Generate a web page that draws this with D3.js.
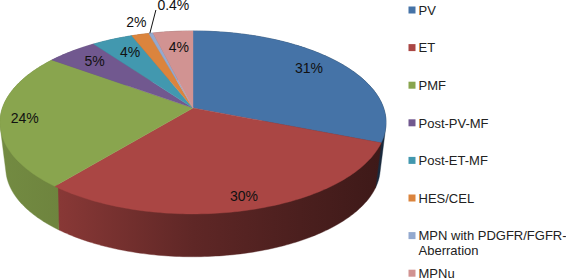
<!DOCTYPE html>
<html>
<head>
<meta charset="utf-8">
<script src="https://cdn.jsdelivr.net/npm/d3@7"></script>
<style>
  body { margin: 0; background: #fff; }
  svg { display: block; }
  text { font-family: "Liberation Sans", Arial, sans-serif; }
</style>
</head>
<body>
<div id="chart"></div>
<script>
const categories = ["PV", "ET", "PMF", "Post-PV-MF", "Post-ET-MF", "HES/CEL", "MPN with PDGFR/FGFR-Aberration", "MPNu"];
const values = [31, 30, 24, 5, 4, 1.7, 0.4, 3.9];
const valueLabels = ["31%", "30%", "24%", "5%", "4%", "2%", "0.4%", "4%"];
const colors = ["#4573a7", "#aa4644", "#89a54e", "#71588f", "#4298af", "#db843d", "#93a9cf", "#d19392"];

const width = 566;
const height = 278;
const tilt = 0.158; // perspective of the pie plane
const depthScale = 0.97; // bottom rim is a bit smaller than the top one

// where the text goes: radius along the slice middle, then a small nudge
const labelRadius = [0.78, 0.83, 0.9, 0.76, 0.77, 1.2, 1.0, 0.62];
const labelNudge = [[1, -3], [6, 6], [5, 0], [-4, -3], [1, -2], [5, 0], [0, 0], [-1, -11]];

const svg = d3.select("#chart").append("svg").attr("width", width).attr("height", height);

const xScale = d3.scaleLinear().domain([-1, 1]).range([2.4, 383.6]);
const yScale = d3.scaleLinear().domain([-1, 1]).range([108 + 89.2, 108 - 89.2]);

function project(angle, r) {
  const u = Math.sin(angle) * r;
  const v = Math.cos(angle) * r;
  const w = 1 + tilt * v;
  return [xScale(u / w), yScale(v / w)];
}

function projectBottom(angle) {
  const p = project(angle, 1);
  return [193 + (p[0] - 193) * depthScale, 154 + (p[1] - 108) * depthScale];
}

const pie = d3.pie().sort(null).value((d) => d);
const arcs = pie(values);
const line = d3.line();

function rimAngles(d) {
  const n = Math.max(2, Math.ceil((d.endAngle - d.startAngle) * 60));
  return d3.range(n + 1).map((i) => d.startAngle + ((d.endAngle - d.startAngle) * i) / n);
}

// wall shading, darker towards the right
const shade = d3.scaleLinear()
  .domain([0, 60, 193, 300, 386])
  .range([0.84, 0.8, 0.56, 0.44, 0.36]);

const defs = svg.append("defs");
arcs.forEach((d, i) => {
  const gradient = defs.append("linearGradient")
    .attr("id", "wall-" + i)
    .attr("gradientUnits", "userSpaceOnUse")
    .attr("x1", 0).attr("x2", 386).attr("y1", 0).attr("y2", 0);
  shade.domain().forEach((x) => {
    const c = d3.rgb(colors[i]);
    const k = shade(x);
    gradient.append("stop")
      .attr("offset", x / 386)
      .attr("stop-color", d3.rgb(c.r * k, c.g * k, c.b * k).formatHex());
  });
});

// side walls first, the top face covers the back part
// hull so the outline stays smooth where wall meets the top rim
svg.append("g").selectAll("path")
  .data(arcs)
  .enter()
  .append("path")
  .attr("fill", (d, i) => "url(#wall-" + i + ")")
  .attr("stroke", (d, i) => "url(#wall-" + i + ")")
  .attr("stroke-width", 0.4)
  .attr("d", (d) => {
    const angles = rimAngles(d);
    const top = angles.map((a) => project(a, 1));
    const bottom = angles.map(projectBottom);
    return line(d3.polygonHull(top.concat(bottom))) + "Z";
  });

// top face
svg.append("g").selectAll("path")
  .data(arcs)
  .enter()
  .append("path")
  .attr("fill", (d, i) => colors[i])
  .attr("stroke", (d, i) => colors[i])
  .attr("stroke-width", 0.4)
  .attr("d", (d) => {
    const rim = rimAngles(d).map((a) => project(a, 1));
    return line([project(0, 0)].concat(rim)) + "Z";
  });

const midAngle = (d) => (d.startAngle + d.endAngle) / 2;

// leader line of the smallest slice
const leaderStart = project(midAngle(arcs[6]), 1);
svg.append("line")
  .attr("x1", leaderStart[0] - 1)
  .attr("y1", leaderStart[1])
  .attr("x2", leaderStart[0] + 5)
  .attr("y2", 10)
  .attr("stroke", "#111")
  .attr("stroke-width", 1);

// value labels
svg.append("g").selectAll("text")
  .data(arcs)
  .enter()
  .append("text")
  .text((d, i) => valueLabels[i])
  .attr("font-size", 14)
  .attr("fill", "#111")
  .attr("text-anchor", (d, i) => (i === 6 ? "start" : "middle"))
  .attr("x", (d, i) => {
    if (i === 6) return leaderStart[0] + 6.5;
    return project(midAngle(d), labelRadius[i])[0] + labelNudge[i][0];
  })
  .attr("y", (d, i) => {
    if (i === 6) return 10;
    return project(midAngle(d), labelRadius[i])[1] + 5 + labelNudge[i][1];
  });

// legend
const legendY = d3.scaleLinear().domain([0, 7]).range([10, 273.2]);
const legend = svg.append("g").selectAll("g")
  .data(categories)
  .enter()
  .append("g")
  .attr("transform", (d, i) => "translate(408.5," + legendY(i) + ")");

legend.append("rect")
  .attr("y", -3.5)
  .attr("width", 7)
  .attr("height", 7)
  .attr("fill", (d, i) => colors[i]);

legend.append("text")
  .attr("font-size", 13)
  .attr("fill", "#222")
  .each(function (d) {
    const parts = d.split(/(?<=FGFR-)/);
    d3.select(this).selectAll("tspan")
      .data(parts)
      .enter()
      .append("tspan")
      .attr("x", 10)
      .attr("y", (p, i) => 4.7 + i * 15)
      .text((p) => p);
  });
</script>
</body>
</html>
